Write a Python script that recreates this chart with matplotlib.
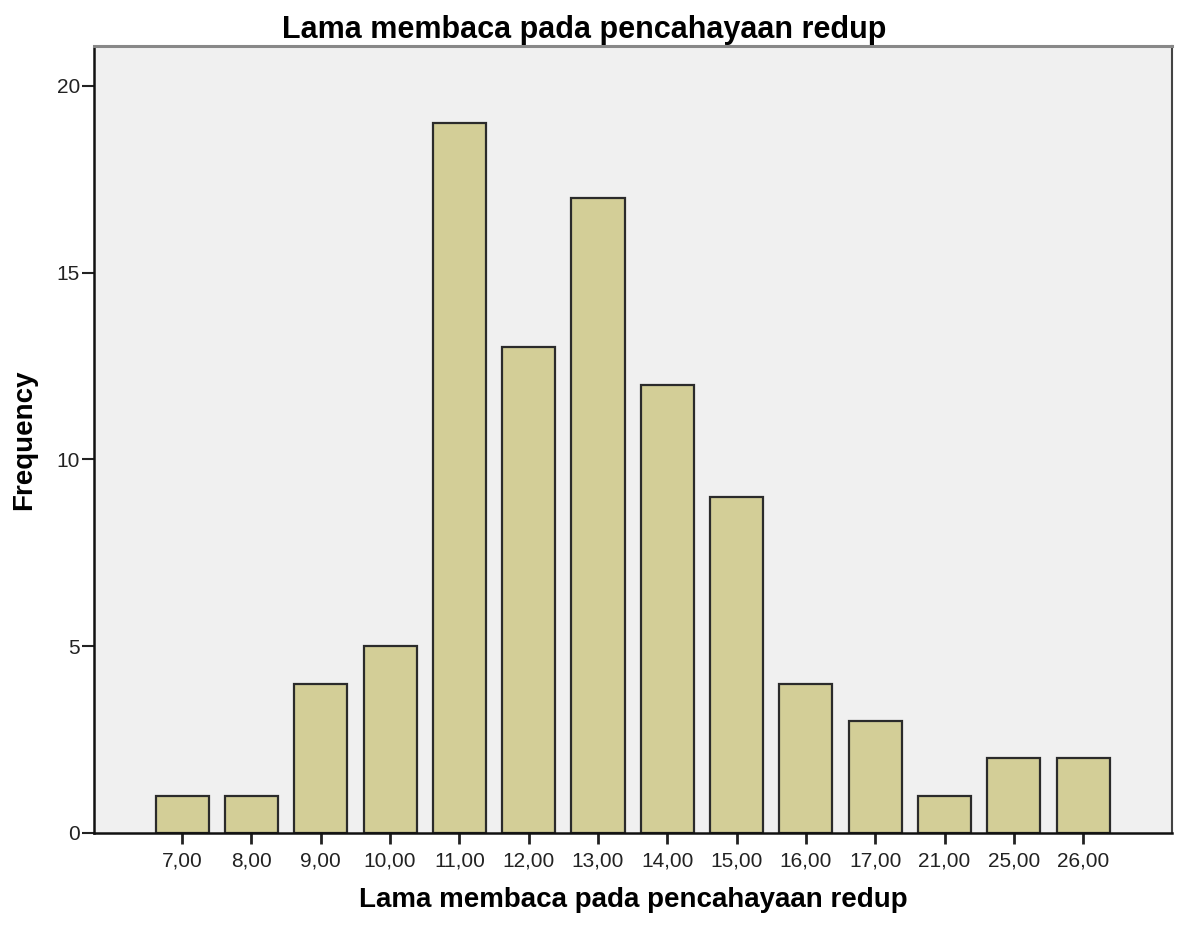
import matplotlib
matplotlib.use("Agg")
import matplotlib.pyplot as plt

categories = ["7,00", "8,00", "9,00", "10,00", "11,00", "12,00", "13,00",
              "14,00", "15,00", "16,00", "17,00", "21,00", "25,00", "26,00"]
frequency = [1, 1, 4, 5, 19, 13, 17, 12, 9, 4, 3, 1, 2, 2]
yticks = [0, 5, 10, 15, 20]
title = "Lama membaca pada pencahayaan redup"
xlabel = "Lama membaca pada pencahayaan redup"
ylabel = "Frequency"

plt.rcParams['font.family'] = ['Liberation Sans', 'DejaVu Sans']

fig = plt.figure(figsize=(11.81, 9.27), dpi=100)
ax = fig.add_axes([94/1181, 1 - 833/927, (1172-94)/1181, (833-46)/927])
ax.set_facecolor("#F0F0F0")

x = list(range(len(categories)))
ax.bar(x, frequency, width=0.765, color="#D3CE97", edgecolor="#2b2b2b", linewidth=1.6, zorder=2)

ax.set_xlim(-1.27, len(categories) - 1 + 1.28)
ax.set_ylim(0, 21.07)
ax.set_xticks(x)
ax.set_xticklabels(categories, fontsize=15, color="#222222")
ax.set_yticks(yticks)
ax.set_yticklabels([str(v) for v in yticks], fontsize=15, color="#222222")
ax.tick_params(axis="x", length=8, width=2, color="#222222", pad=5)
ax.tick_params(axis="y", length=9, width=1.5, color="#222222", pad=1)

for side in ["left", "bottom"]:
    ax.spines[side].set_color("#111111")
    ax.spines[side].set_linewidth(1.8)
ax.spines["top"].set_color("#888888")
ax.spines["top"].set_linewidth(2.2)
ax.spines["right"].set_color("#444444")
ax.spines["right"].set_linewidth(1.5)

ax.set_title(title, fontsize=22, fontweight="bold", pad=6, x=(584 - 94) / 1078)
ax.set_xlabel(xlabel, fontsize=20, fontweight="bold", labelpad=12)
ax.set_ylabel(ylabel, fontsize=20, fontweight="bold", labelpad=14)

fig.savefig("out.png", dpi=100)
